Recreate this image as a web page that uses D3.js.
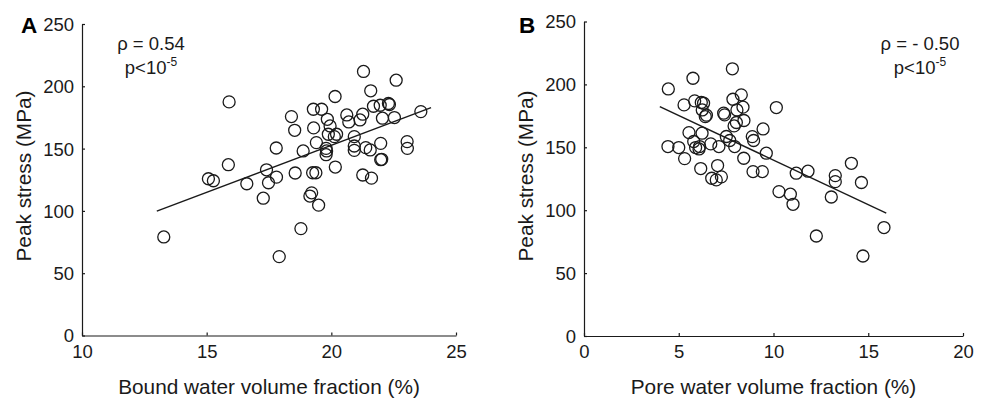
<!DOCTYPE html>
<html>
<head>
<meta charset="utf-8">
<script src="https://cdn.jsdelivr.net/npm/d3@7"></script>
<style>
  body { margin: 0; background: #fff; }
  svg { display: block; font-family: "Liberation Sans", Arial, sans-serif; }
</style>
</head>
<body>
<svg id="chart" width="987" height="402"></svg>
<script>
// Panel A: bound water volume fraction (%) vs peak stress (MPa)
const boundWater = [13.28, 15.90, 15.07, 15.27, 15.87, 16.61, 17.27, 17.40, 17.48, 17.79,
  17.80, 17.91, 18.40, 18.53, 18.55, 18.78, 18.87, 19.14, 19.21, 19.28,
  19.29, 19.25, 19.38, 19.40, 19.49, 19.61, 19.84, 19.95, 19.88, 19.79,
  19.81, 19.79, 20.15, 20.16, 20.12, 20.21, 20.62, 20.70, 20.92, 20.92,
  20.92, 21.29, 21.26, 21.15, 21.26, 21.38, 21.56, 21.58, 21.61, 21.69,
  21.96, 21.98, 21.98, 22.05, 22.29, 22.33, 22.53, 22.60, 23.04, 23.05,
  23.59, 22.02];
const stressA = [79.1, 187.5, 125.8, 124.2, 137.1, 121.8, 110.2, 133.0, 122.6, 150.5,
  127.1, 63.3, 175.7, 164.7, 130.4, 85.8, 148.1, 111.9, 114.5, 181.6,
  166.6, 130.6, 130.6, 154.8, 104.6, 181.6, 173.5, 168.2, 161.5, 150.2,
  148.1, 145.1, 191.8, 135.2, 159.6, 161.5, 177.0, 171.4, 159.6, 152.1,
  148.6, 211.9, 177.6, 173.0, 128.8, 150.8, 148.9, 196.4, 126.3, 184.0,
  184.8, 154.2, 141.1, 174.4, 186.2, 185.4, 174.9, 204.9, 155.6, 150.2,
  179.7, 141.4];
const fitA = [[13.0, 99.8], [24.0, 182.9]];

// Panel B: pore water volume fraction (%) vs peak stress (MPa)
const poreWater = [4.45, 4.43, 5.00, 5.28, 5.31, 5.54, 5.75, 5.84, 5.79, 5.89,
  6.07, 6.10, 6.16, 6.19, 6.31, 6.23, 6.24, 6.40, 6.46, 6.69,
  6.74, 6.98, 7.05, 7.12, 7.25, 7.37, 7.42, 7.51, 7.69, 7.83,
  7.86, 7.95, 7.92, 8.04, 8.07, 8.30, 8.39, 8.44, 8.43, 8.88,
  8.95, 8.92, 9.41, 9.45, 9.62, 10.15, 10.29, 10.89, 11.03, 11.20,
  11.82, 12.26, 13.05, 13.26, 13.26, 14.11, 14.64, 14.72, 15.83];
const stressB = [196.4, 150.6, 149.8, 183.7, 141.0, 161.7, 204.9, 186.9, 154.6, 149.8,
  148.7, 150.6, 133.1, 185.6, 185.0, 161.2, 179.7, 174.4, 175.5, 152.7,
  125.4, 124.1, 135.5, 150.6, 126.5, 177.1, 175.8, 158.6, 155.4, 212.4,
  188.2, 150.6, 167.0, 169.7, 179.7, 191.7, 181.9, 171.3, 141.3, 158.5,
  155.4, 130.7, 130.7, 164.6, 145.3, 181.6, 114.8, 112.7, 104.7, 129.4,
  131.0, 79.5, 110.5, 127.5, 122.7, 137.3, 122.0, 63.6, 86.2];
const fitB = [[4.0, 182.4], [15.95, 97.6]];

const yTicks = [0, 50, 100, 150, 200, 250];
const xTicksA = [10, 15, 20, 25];
const xTicksB = [0, 5, 10, 15, 20];

const ink = "#1a1a1a";
const svg = d3.select("#chart");

const drawPanel = (cfg) => {
  const g = svg.append("g");
  const x = d3.scaleLinear().domain(cfg.xDomain).range([cfg.left, cfg.right]);
  const y = d3.scaleLinear().domain([0, 250]).range([cfg.bottom, cfg.top]);

  // axes with short inward ticks
  const xAxis = g.append("g")
    .attr("transform", `translate(0,${cfg.bottom})`)
    .call(d3.axisBottom(x).tickValues(cfg.xTicks).tickSize(-3).tickPadding(9).tickSizeOuter(0));
  const yAxis = g.append("g")
    .attr("transform", `translate(${cfg.left},0)`)
    .call(d3.axisLeft(y).tickValues(yTicks).tickSize(-3).tickPadding(8).tickSizeOuter(0));
  [xAxis, yAxis].forEach(a => {
    a.select(".domain").attr("stroke", ink).attr("stroke-width", 1.2);
    a.selectAll(".tick line").attr("stroke", ink).attr("stroke-width", 1.2);
    a.selectAll(".tick text").attr("fill", ink).style("font-size", "18.5px")
      .style("font-family", "'Liberation Sans', Arial, sans-serif");
  });
  yAxis.selectAll(".tick text").attr("dy", "0.35em");

  // fit line
  g.append("line")
    .attr("x1", x(cfg.fit[0][0])).attr("y1", y(cfg.fit[0][1]))
    .attr("x2", x(cfg.fit[1][0])).attr("y2", y(cfg.fit[1][1]))
    .attr("stroke", ink).attr("stroke-width", 1.4);

  // data points
  g.selectAll("circle.pt")
    .data(cfg.xs.map((v, i) => [v, cfg.ys[i]]))
    .enter()
    .append("circle")
    .attr("class", "pt")
    .attr("cx", d => x(d[0]))
    .attr("cy", d => y(d[1]))
    .attr("r", 6)
    .attr("fill", "none")
    .attr("stroke", ink)
    .attr("stroke-width", 1.3);

  // axis titles
  g.append("text")
    .attr("x", (cfg.left + cfg.right) / 2)
    .attr("y", 394)
    .attr("text-anchor", "middle")
    .attr("fill", ink)
    .style("font-size", "20.8px")
    .text(cfg.xLabel);
  g.append("text")
    .attr("transform", `translate(${cfg.left - 51},176) rotate(-90)`)
    .attr("text-anchor", "middle")
    .attr("fill", ink)
    .style("font-size", "20.8px")
    .text("Peak stress (MPa)");

  // panel letter
  g.append("text")
    .attr("x", cfg.letterX)
    .attr("y", 32.5)
    .attr("fill", "#000")
    .style("font-size", "22.5px")
    .style("font-weight", "bold")
    .text(cfg.letter);

  // correlation annotation
  g.append("text")
    .attr("x", cfg.annX).attr("y", 50)
    .attr("text-anchor", "middle")
    .attr("fill", ink)
    .style("font-size", "18.5px")
    .text(cfg.rho);
  const p = g.append("text")
    .attr("x", cfg.annX).attr("y", 74)
    .attr("text-anchor", "middle")
    .attr("fill", ink)
    .style("font-size", "18.5px");
  p.append("tspan").text("p<10");
  p.append("tspan").attr("dy", -8).style("font-size", "12px").text("-5");
};

drawPanel({
  xDomain: [10, 25], xTicks: xTicksA, left: 82, right: 456, top: 24, bottom: 335.5,
  xs: boundWater, ys: stressA, fit: fitA,
  xLabel: "Bound water volume fraction (%)", letter: "A", letterX: 21,
  annX: 151, rho: "ρ = 0.54"
});
drawPanel({
  xDomain: [0, 20], xTicks: xTicksB, left: 584, right: 963, top: 21.5, bottom: 336,
  xs: poreWater, ys: stressB, fit: fitB,
  xLabel: "Pore water volume fraction (%)", letter: "B", letterX: 519,
  annX: 920, rho: "ρ = - 0.50"
});
</script>
</body>
</html>
